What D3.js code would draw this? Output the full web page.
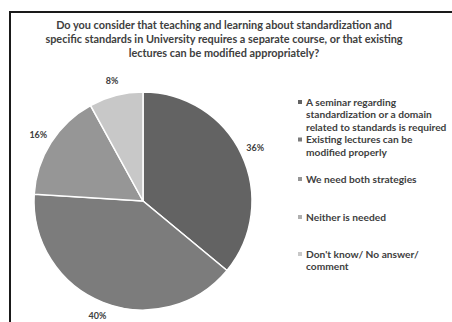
<!DOCTYPE html>
<html>
<head>
<meta charset="utf-8">
<script src="https://cdn.jsdelivr.net/npm/d3@7"></script>
<style>
  html, body { margin: 0; padding: 0; background: #fff; }
  svg { display: block; }
  text { font-family: "Lato", "Open Sans", sans-serif; font-weight: bold; }
</style>
</head>
<body>
<svg id="chart" width="452" height="322"></svg>
<script>
// Survey answers and their shares (%)
const categories = [
  "A seminar regarding standardization or a domain related to standards is required",
  "Existing lectures can be modified properly",
  "We need both strategies",
  "Neither is needed",
  "Don't know/ No answer/ comment"
];
const values = [36, 40, 16, 0, 8];
const legendLines = [
  ["A seminar regarding", "standardization or a domain", "related to standards is required"],
  ["Existing lectures can be", "modified properly"],
  ["We need both strategies"],
  ["Neither is needed"],
  ["Don't know/ No answer/", "comment"]
];
const titleLines = [
  "Do you consider that teaching and learning about standardization and",
  "specific standards in University requires a separate course, or that existing",
  "lectures can be modified appropriately?"
];
const shades = ["#636363", "#7c7c7c", "#969696", "#afafaf", "#c8c8c8"];

const svg = d3.select("#chart");

// Frame around the chart area
svg.append("rect")
  .attr("x", 10).attr("y", 12)
  .attr("width", 460).attr("height", 330)
  .attr("fill", "none")
  .attr("stroke", "#1a1a1a")
  .attr("stroke-width", 2);

// Title
const title = svg.append("text")
  .attr("text-anchor", "middle")
  .attr("fill", "#404040")
  .style("font-size", "10.9px");
titleLines.forEach((line, i) => {
  title.append("tspan")
    .attr("x", 224)
    .attr("y", 29 + i * 14)
    .text(line);
});

// Pie
const cx = 143, cy = 201, r = 109;
const color = d3.scaleOrdinal().domain(categories).range(shades);
const pie = d3.pie().sort(null).value(d => d.value);
const data = categories.map((c, i) => ({ category: c, value: values[i] }));
const arcs = pie(data);
const arc = d3.arc().innerRadius(0).outerRadius(r);
const labelArc = d3.arc().innerRadius(124).outerRadius(124);

const g = svg.append("g").attr("transform", `translate(${cx},${cy})`);
g.selectAll("path")
  .data(arcs.filter(a => a.data.value > 0))
  .join("path")
  .attr("d", arc)
  .attr("fill", d => color(d.data.category))
  .attr("stroke", "#fff")
  .attr("stroke-width", 1.5);

g.selectAll("text.pct")
  .data(arcs.filter(a => a.data.value > 0))
  .join("text")
  .attr("class", "pct")
  .attr("transform", d => `translate(${labelArc.centroid(d)})`)
  .attr("text-anchor", "middle")
  .attr("dy", "0.35em")
  .attr("fill", "#404040")
  .style("font-size", "9px")
  .text(d => d.data.value + "%");

// Legend
const legendTop = [102, 139.5, 179, 217, 254];
const lg = svg.append("g");
legendLines.forEach((lines, i) => {
  const y0 = legendTop[i];
  lg.append("rect")
    .attr("x", 298).attr("y", y0 - 2)
    .attr("width", 4).attr("height", 4)
    .attr("fill", color(categories[i]));
  const t = lg.append("text")
    .attr("fill", "#404040")
    .style("font-size", "10.2px");
  lines.forEach((line, j) => {
    t.append("tspan")
      .attr("x", 306)
      .attr("y", y0 + j * 12.8)
      .attr("dy", "0.35em")
      .text(line);
  });
});
</script>
</body>
</html>
